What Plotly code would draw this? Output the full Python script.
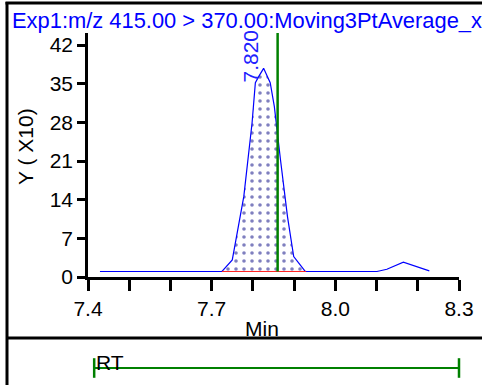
import plotly.graph_objects as go

# ---- data ----
time_min = [7.429, 7.725, 7.750, 7.758, 7.778, 7.798, 7.806, 7.814, 7.826, 7.842,
            7.852, 7.867, 7.884, 7.899, 7.927, 8.101, 8.125, 8.165, 8.198, 8.228]
intensity_x10 = [1.0, 1.0, 3.1, 6.2, 14.6, 27.9, 35.2, 36.3, 37.8, 35.2,
                 30.9, 21.2, 10.9, 3.7, 1.0, 1.0, 1.4, 2.7, 1.9, 1.1]
peak_start = 7.725
peak_end = 7.929
peak_baseline = 1.0
peak_apex_label = "7.820"
peak_apex_time = 7.820
expected_rt = 7.86
rt_window = [7.415, 8.3]
x_tickvals = [7.4, 7.5, 7.6, 7.7, 7.8, 7.9, 8.0, 8.1, 8.2, 8.3]
x_ticktext = ["7.4", "", "", "7.7", "", "", "8.0", "", "", "8.3"]
y_tickvals = [0, 7, 14, 21, 28, 35, 42]
y_ticktext = ["0", "7", "14", "21", "28", "35", "42"]
title_text = "Exp1:m/z 415.00 > 370.00:Moving3PtAverage_x"

FONT = "Liberation Sans, Arial, sans-serif"
FS = 21
W, H = 482, 385
ML, MR, MT, MB = 88, 23, 33, 0
PW, PH = W - ML - MR, H - MT - MB


def px_x(p):
    return (p - ML) / PW


def px_y(p):
    return (H - MB - p) / PH


# peak region for the hatched fill
peak_x = [t for t in time_min if peak_start <= t <= peak_end]
peak_y = [v for t, v in zip(time_min, intensity_x10) if peak_start <= t <= peak_end]

fig = go.Figure()

fig.add_trace(go.Scatter(
    x=peak_x, y=peak_y, mode="lines", fill="toself",
    line=dict(width=0, color="rgba(0,0,0,0)"),
    fillcolor="white",
    fillpattern=dict(shape=".", fgcolor="#000080", bgcolor="white",
                     size=8, solidity=0.16, fillmode="overlay"),
    hoverinfo="skip", showlegend=False, xaxis="x", yaxis="y"))

fig.add_trace(go.Scatter(
    x=time_min, y=intensity_x10, mode="lines",
    line=dict(color="#0000ff", width=1.2),
    showlegend=False, xaxis="x", yaxis="y"))

# integration baseline
fig.add_trace(go.Scatter(
    x=[peak_start, peak_end], y=[peak_baseline, peak_baseline], mode="lines",
    line=dict(color="#ff2020", width=1),
    showlegend=False, xaxis="x", yaxis="y"))
fig.add_trace(go.Scatter(
    x=[peak_start, peak_end], y=[peak_baseline - 1.85, peak_baseline - 1.85],
    mode="markers", cliponaxis=False,
    marker=dict(symbol="line-ns-open", size=20, color="#ff2020",
                line=dict(color="#ff2020", width=1.5)),
    showlegend=False, xaxis="x", yaxis="y"))

# expected RT line
fig.add_trace(go.Scatter(
    x=[expected_rt, expected_rt], y=[peak_baseline, 44.2], mode="lines",
    line=dict(color="#008000", width=2.5),
    showlegend=False, xaxis="x", yaxis="y"))

# RT window in lower panel
fig.add_trace(go.Scatter(
    x=rt_window, y=[0, 0], mode="lines+markers", cliponaxis=False,
    line=dict(color="#008000", width=2),
    marker=dict(symbol="line-ns-open", size=14, color="#008000",
                line=dict(color="#008000", width=2.5)),
    showlegend=False, xaxis="x2", yaxis="y2"))

axis_font = dict(family=FONT, size=FS, color="black")

fig.update_layout(
    width=W, height=H, autosize=False,
    margin=dict(l=ML, r=MR, t=MT, b=MB, pad=0, autoexpand=False),
    paper_bgcolor="white", plot_bgcolor="white",
    font=dict(family=FONT, size=FS, color="black"),
    title=dict(text=title_text, font=dict(family=FONT, size=21.9, color="#0000ff"),
               x=12 / W, xanchor="left", xref="container", automargin=False,
               y=1 - 20 / H, yanchor="middle", yref="container"),
    xaxis=dict(domain=[0, 1], range=[7.4, 8.3], anchor="y", automargin=False,
               tickvals=x_tickvals, ticktext=x_ticktext,
               ticks="outside", ticklen=11, tickwidth=2.5, tickcolor="black",
               showline=True, linecolor="black", linewidth=2.5,
               showgrid=False, zeroline=False, tickfont=axis_font),
    yaxis=dict(domain=[px_y(277), 1], range=[0, 44.2], anchor="x", automargin=False,
               tickvals=y_tickvals, ticktext=y_ticktext,
               ticks="outside", ticklen=8, tickwidth=2.5, tickcolor="black",
               showline=True, linecolor="black", linewidth=2.5,
               showgrid=False, zeroline=False, tickfont=axis_font),
    xaxis2=dict(domain=[0, 1], range=[7.4, 8.3], anchor="y2", visible=False,
                automargin=False),
    yaxis2=dict(domain=[0, px_y(340)], range=[-17, 28], anchor="x2", visible=False,
                automargin=False),
    annotations=[
        dict(text=peak_apex_label, x=peak_apex_time, y=34.8, xref="x", yref="y",
             textangle=-90, showarrow=False, xanchor="center", yanchor="bottom",
             xshift=-11, font=dict(family=FONT, size=FS, color="#2020ff")),
        dict(text="Y ( X10)", x=px_x(25), y=px_y(147), xref="paper", yref="paper",
             textangle=-90, showarrow=False, xanchor="center", yanchor="middle",
             font=axis_font),
        dict(text="Min", x=px_x(262), y=px_y(328), xref="paper", yref="paper",
             showarrow=False, xanchor="center", yanchor="middle", font=axis_font),
        dict(text="RT", x=rt_window[0], y=6, xref="x2", yref="y2",
             showarrow=False, xanchor="left", yanchor="middle", font=axis_font),
    ],
    shapes=[
        dict(type="line", xref="paper", yref="paper",
             x0=px_x(7), x1=px_x(7), y0=px_y(2), y1=px_y(H + 5),
             line=dict(color="black", width=3)),
        dict(type="line", xref="paper", yref="paper",
             x0=px_x(5.5), x1=px_x(W + 5), y0=px_y(3), y1=px_y(3),
             line=dict(color="black", width=3)),
        dict(type="line", xref="paper", yref="paper",
             x0=px_x(7), x1=px_x(W + 5), y0=px_y(338), y1=px_y(338),
             line=dict(color="black", width=3)),
    ],
)

fig.write_html("out.html",
               config={"displayModeBar": False},
               post_script="document.body.style.margin='0';")
